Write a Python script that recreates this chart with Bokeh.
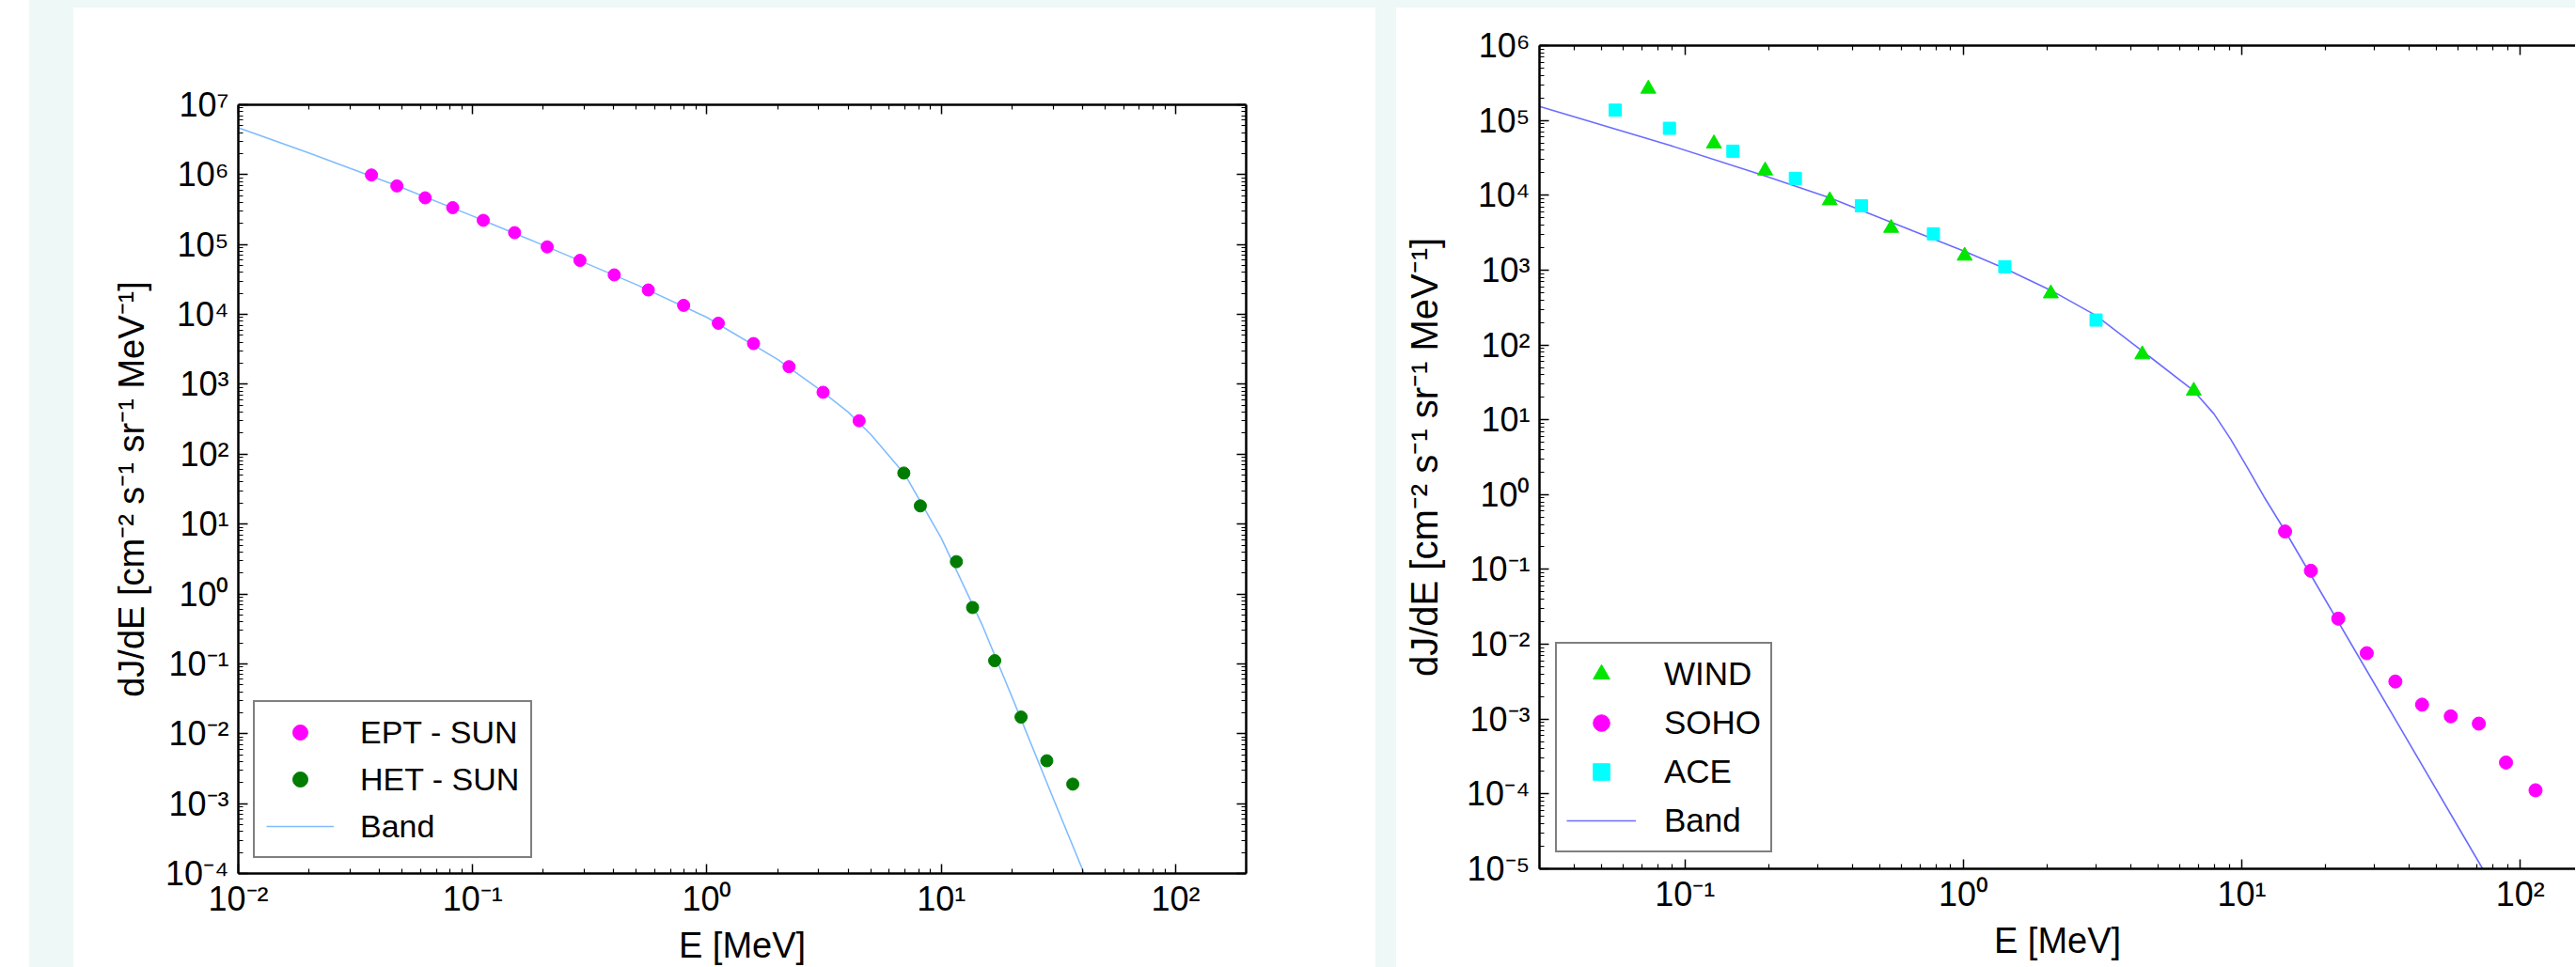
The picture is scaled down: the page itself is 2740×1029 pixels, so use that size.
from bokeh.plotting import figure
from bokeh.models import (LogAxis, FixedTicker, CustomJSTickFormatter, Legend,
                          LegendItem, Spacer)
from bokeh.layouts import row, column
from bokeh.embed import file_html
from bokeh.resources import INLINE

# ---------------- data: left panel (SUN) ----------------
ept_energy = [0.037, 0.0475, 0.0627, 0.0822, 0.111, 0.151, 0.208, 0.287, 0.402,
              0.562, 0.795, 1.118, 1.58, 2.24, 3.13, 4.46]
ept_flux = [9.9e5, 6.9e5, 4.66e5, 3.37e5, 2.22e5, 1.48e5, 9.27e4, 5.93e4, 3.68e4,
            2.24e4, 1.35e4, 7.48e3, 3.83e3, 1.79e3, 769, 301]
het_energy = [6.92, 8.14, 11.6, 13.6, 16.9, 21.9, 28.2, 36.4]
het_flux = [53.7, 18.2, 2.9, 0.64, 0.111, 0.0173, 0.0041, 0.0019]
band_left_energy = [0.01, 0.02, 0.05, 0.1, 0.2, 0.5, 1, 2, 3, 4, 5, 7, 10, 15, 20, 30, 40.7]
band_left_flux = [4.7e6, 2.05e6, 6.5e5, 2.56e5, 9.8e4, 2.67e4, 9.06e3, 2.28e3, 857, 402,
                  192, 51, 6.3, 0.35, 0.034, 0.0012, 1e-4]

# ---------------- data: right panel (WIND / SOHO / ACE) ----------------
wind_energy = [0.0738, 0.127, 0.194, 0.331, 0.55, 1.01, 2.06, 4.39, 6.72]
wind_flux = [2.64e5, 4.9e4, 2.13e4, 8.53e3, 3.65e3, 1.55e3, 486, 74.5, 24.3]
soho_energy = [14.3, 17.7, 22.2, 28.1, 35.6, 44.4, 56.3, 71.0, 88.9, 113.5]
soho_flux = [0.321, 0.096, 0.022, 0.0076, 0.00318, 0.00156, 0.00109, 8.7e-4, 2.63e-4, 1.12e-4]
ace_energy = [0.0561, 0.0879, 0.1486, 0.249, 0.430, 0.780, 1.408, 2.995]
ace_flux = [1.37e5, 7.84e4, 3.88e4, 1.68e4, 7.25e3, 3.05e3, 1.11e3, 215]
band_right_energy = [0.03, 0.0879, 0.194, 0.331, 0.55, 1.01, 1.41, 2.06, 2.99, 4.46,
                     6.72, 7.94, 9.12, 10.47, 12.02, 14.3, 73.3]
band_right_flux = [1.54e5, 4.66e4, 1.81e4, 9.23e3, 4.35e3, 1.78e3, 1.05e3, 537, 248, 79.4,
                   24.3, 12.0, 5.5, 2.29, 0.933, 0.327, 1e-5]

x_label = "E [MeV]"
y_label = "dJ/dE [cm\u207b\u00b2 s\u207b\u00b9 sr\u207b\u00b9 MeV\u207b\u00b9]"

FONT = "Liberation Sans"
BG = "#eef8f6"

SUP_CODE = """
const sup = {"-":"\u207b","0":"\u2070","1":"\u00b9","2":"\u00b2","3":"\u00b3",
             "4":"\u2074","5":"\u2075","6":"\u2076","7":"\u2077","8":"\u2078","9":"\u2079"};
const e = Math.round(Math.log10(tick));
return "10" + String(e).split("").map(c => sup[c]).join("");
"""


def ticker(lo, hi):
    majors = [10.0 ** k for k in range(lo, hi + 1)]
    minors = [m * 10.0 ** k for k in range(lo - 1, hi + 1) for m in range(2, 10)]
    return FixedTicker(ticks=majors, minor_ticks=minors)


def style_axis(ax, labels=True):
    ax.axis_line_width = 2.5
    ax.axis_line_color = "black"
    ax.major_tick_in = 10
    ax.major_tick_out = 0
    ax.minor_tick_in = 5
    ax.minor_tick_out = 0
    ax.major_tick_line_width = 1.5
    ax.minor_tick_line_width = 1.2
    ax.major_label_text_font = FONT
    ax.major_label_text_color = "black"
    ax.axis_label_text_font = FONT
    ax.axis_label_text_font_style = "normal"
    ax.axis_label_text_font_size = "38px"
    ax.axis_label_text_color = "black"
    if labels:
        ax.formatter = CustomJSTickFormatter(code=SUP_CODE)
        ax.major_label_text_font_size = "36px"
    else:
        ax.formatter = CustomJSTickFormatter(code='return "";')
        ax.major_label_text_font_size = "2px"
        ax.major_label_standoff = 0


def make_fig(width, height, xr, yr, xt, yt, borders, right_axis=True):
    p = figure(width=width, height=height, x_axis_type="log", y_axis_type="log",
               x_range=xr, y_range=yr, output_backend="svg", toolbar_location=None,
               min_border_left=borders[0], min_border_right=borders[1],
               min_border_top=borders[2], min_border_bottom=borders[3])
    p.xgrid.visible = False
    p.ygrid.visible = False
    p.outline_line_color = None
    p.background_fill_color = "white"
    p.border_fill_color = "white"
    p.xaxis.ticker = ticker(*xt)
    p.yaxis.ticker = ticker(*yt)
    style_axis(p.xaxis[0])
    style_axis(p.yaxis[0])
    p.xaxis.major_label_standoff = 6
    p.yaxis.major_label_standoff = 10
    p.yaxis.axis_label = y_label
    p.xaxis.axis_label = x_label
    top = LogAxis(ticker=ticker(*xt))
    style_axis(top, labels=False)
    p.add_layout(top, "above")
    if right_axis:
        rgt = LogAxis(ticker=ticker(*yt))
        style_axis(rgt, labels=False)
        p.add_layout(rgt, "right")
    return p


# ---------------- left figure ----------------
pl = make_fig(1385, 1021, (0.01, 200), (1e-4, 1e7), (-2, 2), (-4, 7),
              (175, 138, 103, 86))
pl.yaxis[0].axis_label_standoff = 12
pl.xaxis[0].axis_label_standoff = 0
pl.xaxis[0].major_label_standoff = 2
pl.xaxis[0].major_label_text_font_size = "34px"
pl.xaxis[0].axis_label_text_font_size = "34px"
bl = pl.line(band_left_energy, band_left_flux, line_color="#80bcff", line_width=1.6)
r_ept = pl.scatter(ept_energy, ept_flux, marker="circle", size=13,
                   fill_color="#ff00ff", line_color="#ff00ff")
r_het = pl.scatter(het_energy, het_flux, marker="circle", size=13,
                   fill_color="#007d00", line_color="#007d00")
leg_l = Legend(items=[LegendItem(label="EPT - SUN", renderers=[r_ept]),
                      LegendItem(label="HET - SUN", renderers=[r_het]),
                      LegendItem(label="Band", renderers=[bl])],
               location="bottom_left", margin=16, padding=12, spacing=10,
               glyph_width=72, glyph_height=40, label_standoff=28,
               border_line_color="black", border_line_width=2.5,
               background_fill_color="white", background_fill_alpha=1.0,
               label_text_font=FONT, label_text_font_size="34px",
               label_text_color="black")
pl.add_layout(leg_l)

# ---------------- right figure ----------------
pr = make_fig(1254, 1021, (0.03, 158), (1e-5, 1e6), (-2, 2), (-5, 6),
              (152, 0, 40, 105), right_axis=False)
pr.yaxis[0].axis_label_standoff = 20
pr.yaxis[0].axis_label_text_font_size = "40px"
pr.xaxis[0].axis_label_standoff = 0
br = pr.line(band_right_energy, band_right_flux, line_color="#6b6bff", line_width=1.6)
r_wind = pr.scatter(wind_energy, wind_flux, marker="triangle", size=16,
                    fill_color="#00e600", line_color="#00e600")
r_soho = pr.scatter(soho_energy, soho_flux, marker="circle", size=14,
                    fill_color="#ff00ff", line_color="#ff00ff")
r_ace = pr.scatter(ace_energy, ace_flux, marker="square", size=13,
                   fill_color="#00ffff", line_color="#00ffff")
leg_r = Legend(items=[LegendItem(label="WIND", renderers=[r_wind]),
                      LegendItem(label="SOHO", renderers=[r_soho]),
                      LegendItem(label="ACE", renderers=[r_ace]),
                      LegendItem(label="Band", renderers=[br])],
               location="bottom_left", margin=17, padding=10, spacing=8,
               glyph_width=74, glyph_height=44, label_standoff=30,
               border_line_color="black", border_line_width=2.5,
               background_fill_color="white", background_fill_alpha=1.0,
               label_text_font=FONT, label_text_font_size="35px",
               label_text_color="black")
pr.add_layout(leg_r)

# wrap each figure in its own column so the row does not align their frames
panels = row(
    Spacer(width=47, height=1021, styles={"background-color": BG}),
    column(pl, spacing=0),
    Spacer(width=22, height=1021, styles={"background-color": BG}),
    column(pr, spacing=0),
    spacing=0,
)
right_block = column(
    Spacer(width=2708, height=8, styles={"background-color": BG}),
    panels,
    spacing=0,
)
layout = row(
    Spacer(width=31, height=1029, styles={"background-color": "white"}),
    right_block,
    spacing=0,
)

open("out.html", "w").write(file_html(layout, INLINE))
